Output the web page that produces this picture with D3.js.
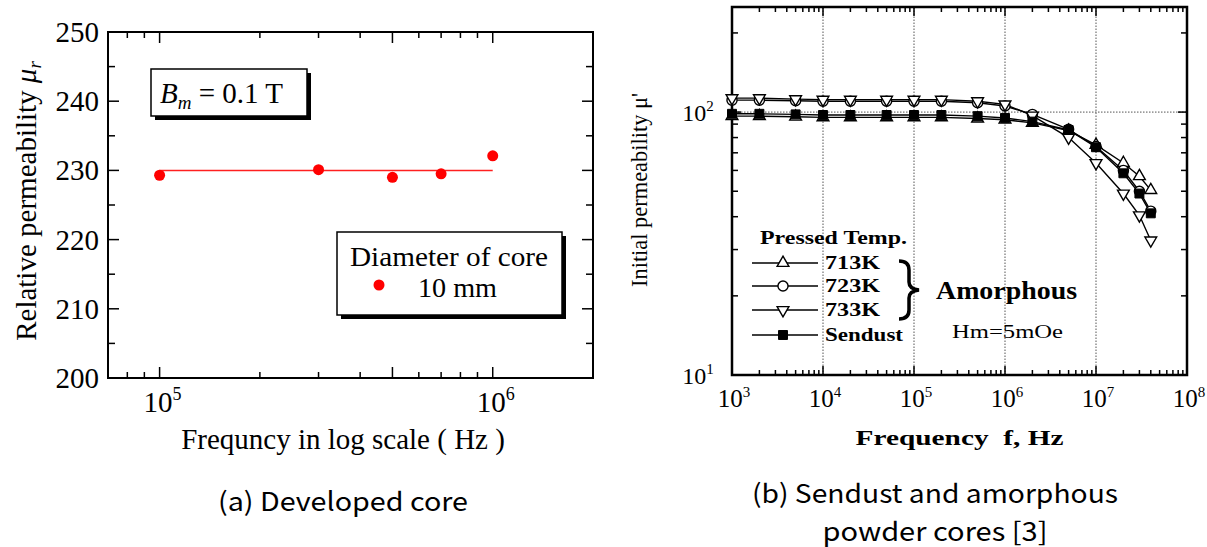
<!DOCTYPE html>
<html>
<head>
<meta charset="utf-8">
<script src="https://cdn.jsdelivr.net/npm/d3@7"></script>
<style>
  html, body { margin: 0; padding: 0; background: #fff; }
  svg { display: block; }
  .serif { font-family: "Liberation Serif", "DejaVu Serif", serif; }
  .cap { font-family: "Noto Sans CJK JP", "Noto Sans", sans-serif; }
</style>
</head>
<body>
<svg id="chart" width="1207" height="547"></svg>
<script>
'use strict';

// ---- (a) developed core ----
var freqA = [1e5, 3e5, 5e5, 7e5, 1e6];
var muA = [229.3, 230.1, 229.0, 229.5, 232.1];
var fitA = 230;
var yTicksA = [200, 210, 220, 230, 240, 250];
var xTicksA = [1e5, 1e6];

// ---- (b) sendust and amorphous ----
var freqB = [1e3, 2e3, 5e3, 1e4, 2e4, 5e4, 1e5, 2e5, 5e5, 1e6, 2e6, 5e6, 1e7, 2e7, 3e7, 4e7];
var mu713 = [96.5, 96.5, 96, 95.5, 95.5, 95.5, 95.5, 95.5, 94.5, 93.5, 91, 85, 75, 64, 57, 50.5];
var mu723 = [111, 111, 110.5, 110, 110, 110, 110, 110, 108.5, 105.5, 98, 86, 74, 60, 50, 42];
var mu733 = [113, 113, 112, 111.5, 111.5, 111.5, 111.5, 111.5, 110, 107, 97, 80, 64, 49, 40.5, 32.5];
var muSendust = [98.5, 98.5, 98, 97.5, 97.5, 97.5, 97.5, 97.5, 96.5, 95, 92, 85.5, 73.5, 58.5, 49, 41.2];
var seriesNames = ['713K', '723K', '733K', 'Sendust'];
var xTicksB = [1e3, 1e4, 1e5, 1e6, 1e7, 1e8];
var yTicksB = [10, 100];

var svg = d3.select('#chart');

function supLabel(g, x, y, base, exp, size, supSize, rise) {
    var t = g.append('text').attr('x', x).attr('y', y)
        .attr('text-anchor', 'middle').attr('class', 'serif')
        .style('font-size', size + 'px');
    t.append('tspan').text(base);
    t.append('tspan').attr('dy', -rise).style('font-size', supSize + 'px').text(exp);
    return t;
}

function drawLeft() {
    var x = d3.scaleLog().domain([7e4, 2e6]).range([108, 593]);
    var y = d3.scaleLinear().domain([200, 250]).range([378, 32]);
    var g = svg.append('g');
    var x0 = x.range()[0], x1 = x.range()[1], y0 = y.range()[0], y1 = y.range()[1];

    // minor/major ticks, pointing inward on all sides
    var minorX = [8e4, 9e4, 2e5, 3e5, 4e5, 6e5, 7e5, 8e5, 9e5];
    var majorX = [1e5, 5e5, 1e6];
    var ticks = g.append('g').attr('stroke', '#000').attr('stroke-width', 1.5);
    majorX.concat(minorX).forEach(function(v) {
        var len = majorX.indexOf(v) >= 0 ? 11 : 6;
        ticks.append('line').attr('x1', x(v)).attr('x2', x(v)).attr('y1', y0).attr('y2', y0 - len);
        ticks.append('line').attr('x1', x(v)).attr('x2', x(v)).attr('y1', y1).attr('y2', y1 + len);
    });
    d3.range(200, 251, 5).forEach(function(v) {
        var len = v % 10 === 0 ? 11 : 7;
        ticks.append('line').attr('x1', x0).attr('x2', x0 + len).attr('y1', y(v)).attr('y2', y(v));
        ticks.append('line').attr('x1', x1).attr('x2', x1 - len).attr('y1', y(v)).attr('y2', y(v));
    });

    g.append('rect').attr('x', x0).attr('y', y1).attr('width', x1 - x0).attr('height', y0 - y1)
        .attr('fill', 'none').attr('stroke', '#000').attr('stroke-width', 2);

    g.selectAll('text.ytick').data(yTicksA).enter().append('text')
        .attr('class', 'serif ytick')
        .attr('x', x0 - 9).attr('y', function(d) { return y(d) + 10; })
        .attr('text-anchor', 'end').style('font-size', '29px')
        .text(function(d) { return d; });

    xTicksA.forEach(function(v) {
        supLabel(g, x(v) + 3, 412, '10', Math.round(Math.log10(v)), 29, 18, 12);
    });

    g.append('text').attr('class', 'serif')
        .attr('x', 343).attr('y', 449).attr('text-anchor', 'middle')
        .style('font-size', '29px').text('Frequncy in log scale ( Hz )');

    var yt = g.append('text').attr('class', 'serif')
        .attr('transform', 'translate(36,201) rotate(-90)')
        .attr('text-anchor', 'middle').style('font-size', '29px');
    yt.append('tspan').text('Relative permeability ');
    yt.append('tspan').style('font-style', 'italic').text('\u03bc');
    yt.append('tspan').style('font-style', 'italic').style('font-size', '19px').attr('dy', 5).text('r');

    // fit line and measured points
    g.append('line').attr('x1', x(freqA[0])).attr('x2', x(freqA[freqA.length - 1]))
        .attr('y1', y(fitA)).attr('y2', y(fitA))
        .attr('stroke', '#ff2020').attr('stroke-width', 1.5);
    g.selectAll('circle.pt').data(freqA).enter().append('circle')
        .attr('class', 'pt')
        .attr('cx', function(d) { return x(d); })
        .attr('cy', function(d, i) { return y(muA[i]); })
        .attr('r', 5.5).attr('fill', '#ff0000');

    // B_m box
    g.append('rect').attr('x', 155).attr('y', 73).attr('width', 156).attr('height', 47).attr('fill', '#000');
    g.append('rect').attr('x', 151).attr('y', 69).attr('width', 156).attr('height', 47)
        .attr('fill', '#fff').attr('stroke', '#000').attr('stroke-width', 1.5);
    var bt = g.append('text').attr('class', 'serif').attr('x', 160).attr('y', 103).style('font-size', '29px');
    bt.append('tspan').style('font-style', 'italic').text('B');
    bt.append('tspan').style('font-style', 'italic').style('font-size', '19px').attr('dy', 6).text('m');
    bt.append('tspan').attr('dy', -6).text(' = 0.1 T');

    // legend box
    g.append('rect').attr('x', 341).attr('y', 236).attr('width', 225).attr('height', 83).attr('fill', '#000');
    g.append('rect').attr('x', 337).attr('y', 232).attr('width', 225).attr('height', 83)
        .attr('fill', '#fff').attr('stroke', '#000').attr('stroke-width', 1.5);
    g.append('text').attr('class', 'serif').attr('x', 449).attr('y', 266)
        .attr('text-anchor', 'middle').attr('textLength', 198).attr('lengthAdjust', 'spacingAndGlyphs')
        .style('font-size', '28px').text('Diameter of core');
    g.append('circle').attr('cx', 379).attr('cy', 285).attr('r', 5.5).attr('fill', '#ff0000');
    g.append('text').attr('class', 'serif').attr('x', 418).attr('y', 297)
        .attr('textLength', 79).attr('lengthAdjust', 'spacingAndGlyphs')
        .style('font-size', '28px').text('10 mm');

    g.append('text').attr('class', 'cap').attr('x', 343).attr('y', 511)
        .attr('text-anchor', 'middle').attr('textLength', 250).attr('lengthAdjust', 'spacingAndGlyphs')
        .style('font-size', '26px').text('(a) Developed core');
}

function marker(sel, name, size) {
    if(name === '713K') {
        sel.append('path').attr('d', d3.symbol().type(d3.symbolTriangle).size(size * 0.75)())
            .attr('fill', '#fff').attr('stroke', '#000').attr('stroke-width', 1.4);
    } else if(name === '733K') {
        sel.append('path').attr('d', d3.symbol().type(d3.symbolTriangle).size(size * 0.75)())
            .attr('transform', 'rotate(180)')
            .attr('fill', '#fff').attr('stroke', '#000').attr('stroke-width', 1.4);
    } else if(name === '723K') {
        sel.append('path').attr('d', d3.symbol().type(d3.symbolCircle).size(size)())
            .attr('fill', '#fff').attr('stroke', '#000').attr('stroke-width', 1.4);
    } else {
        sel.append('path').attr('d', d3.symbol().type(d3.symbolSquare).size(size)())
            .attr('fill', '#000').attr('stroke', '#000').attr('stroke-width', 1);
    }
}

function drawRight() {
    var x = d3.scaleLog().domain([1e3, 1e8]).range([732, 1187]);
    var y = d3.scaleLog().domain([10, 251]).range([375, 7]);
    var g = svg.append('g');
    var x0 = x.range()[0], x1 = x.range()[1], y0 = y.range()[0], y1 = y.range()[1];
    var series = [mu713, mu723, mu733, muSendust];

    // dotted grid
    var grid = g.append('g').attr('stroke', '#555').attr('stroke-width', 1).attr('stroke-dasharray', '1.5,1.5');
    [1e4, 1e5, 1e6, 1e7].forEach(function(v) {
        grid.append('line').attr('x1', x(v)).attr('x2', x(v)).attr('y1', y0).attr('y2', y1);
    });
    grid.append('line').attr('x1', x0).attr('x2', x1).attr('y1', y(100)).attr('y2', y(100));

    var ticks = g.append('g').attr('stroke', '#000').attr('stroke-width', 1.5);
    for(var e = 3; e < 8; e++) {
        for(var m = 1; m < 10; m++) {
            var v = m * Math.pow(10, e);
            var len = m === 1 ? 9 : 5;
            ticks.append('line').attr('x1', x(v)).attr('x2', x(v)).attr('y1', y0).attr('y2', y0 - len);
            ticks.append('line').attr('x1', x(v)).attr('x2', x(v)).attr('y1', y1).attr('y2', y1 + len);
        }
    }
    [20, 30, 40, 50, 60, 70, 80, 90, 100, 200].forEach(function(v) {
        var len = v === 100 ? 9 : 6;
        ticks.append('line').attr('x1', x0).attr('x2', x0 + len).attr('y1', y(v)).attr('y2', y(v));
        ticks.append('line').attr('x1', x1).attr('x2', x1 - len).attr('y1', y(v)).attr('y2', y(v));
    });

    g.append('rect').attr('x', x0).attr('y', y1).attr('width', x1 - x0).attr('height', y0 - y1)
        .attr('fill', 'none').attr('stroke', '#000').attr('stroke-width', 2.5);

    // series lines then markers
    var line = d3.line().x(function(d) { return x(d[0]); }).y(function(d) { return y(d[1]); });
    series.forEach(function(vals) {
        g.append('path').attr('d', line(freqB.map(function(f, i) { return [f, vals[i]]; })))
            .attr('fill', 'none').attr('stroke', '#000').attr('stroke-width', 1.4);
    });
    series.forEach(function(vals, k) {
        freqB.forEach(function(f, i) {
            var mg = g.append('g').attr('transform', 'translate(' + x(f) + ',' + y(vals[i]) + ')');
            marker(mg, seriesNames[k], 80);
        });
    });

    xTicksB.forEach(function(v) {
        supLabel(g, x(v) + 2, 407, '10', Math.round(Math.log10(v)), 25, 15, 10);
    });
    yTicksB.forEach(function(v) {
        supLabel(g, 698, y(v) + 9, '10', Math.round(Math.log10(v)), 24, 15, 10);
    });

    g.append('text').attr('class', 'serif')
        .attr('x', (x0 + x1) / 2).attr('y', 445).attr('text-anchor', 'middle')
        .attr('textLength', 208).attr('lengthAdjust', 'spacingAndGlyphs')
        .style('white-space', 'pre')
        .style('font-size', '21px').style('font-weight', 'bold').text('Frequency  f, Hz');

    g.append('text').attr('class', 'serif')
        .attr('transform', 'translate(647,190) rotate(-90)').attr('text-anchor', 'middle')
        .attr('textLength', 194).attr('lengthAdjust', 'spacingAndGlyphs')
        .style('font-size', '24px').text('Initial permeability \u03bc\'');

    // legend
    g.append('text').attr('class', 'serif').attr('x', 760).attr('y', 244)
        .attr('textLength', 147).attr('lengthAdjust', 'spacingAndGlyphs')
        .style('font-size', '19px').style('font-weight', 'bold').text('Pressed Temp.');
    var rows = [263, 286, 310, 335];
    var widths = [55, 55, 55, 78];
    seriesNames.forEach(function(name, k) {
        g.append('line').attr('x1', 752).attr('x2', 818).attr('y1', rows[k]).attr('y2', rows[k])
            .attr('stroke', '#000').attr('stroke-width', 1.4);
        var mg = g.append('g').attr('transform', 'translate(783,' + rows[k] + ')');
        marker(mg, name, 80);
        g.append('text').attr('class', 'serif').attr('x', 825).attr('y', rows[k] + 6)
            .attr('textLength', widths[k]).attr('lengthAdjust', 'spacingAndGlyphs')
            .style('font-size', '18px').style('font-weight', 'bold').text(name);
    });

    // brace grouping the amorphous samples
    g.append('path')
        .attr('d', 'M899,261 Q909,261 909,270 L909,282 Q909,289 919,290 Q909,291 909,298 L909,310 Q909,319 899,319')
        .attr('fill', 'none').attr('stroke', '#000').attr('stroke-width', 3.5);
    g.append('text').attr('class', 'serif').attr('x', 936).attr('y', 299)
        .attr('textLength', 141).attr('lengthAdjust', 'spacingAndGlyphs')
        .style('font-size', '26px').style('font-weight', 'bold').text('Amorphous');
    g.append('text').attr('class', 'serif').attr('x', 952).attr('y', 338)
        .attr('textLength', 111).attr('lengthAdjust', 'spacingAndGlyphs')
        .style('font-size', '18px').text('Hm=5mOe');

    g.append('text').attr('class', 'cap').attr('x', 935).attr('y', 503)
        .attr('text-anchor', 'middle').attr('textLength', 366).attr('lengthAdjust', 'spacingAndGlyphs')
        .style('font-size', '26px').text('(b) Sendust and amorphous');
    g.append('text').attr('class', 'cap').attr('x', 935).attr('y', 541)
        .attr('text-anchor', 'middle').attr('textLength', 225).attr('lengthAdjust', 'spacingAndGlyphs')
        .style('font-size', '26px').text('powder cores [3]');
}

drawLeft();
drawRight();
</script>
</body>
</html>
